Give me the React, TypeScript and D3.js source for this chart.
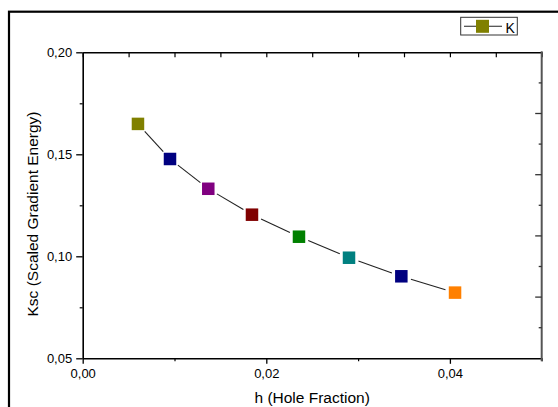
import { useEffect, useRef } from "react";
import * as d3 from "d3";

const holeFraction = [0.00602, 0.00951, 0.01368, 0.01844, 0.02356, 0.02901, 0.03471, 0.04056];
const kscValues = [0.1649, 0.1477, 0.1331, 0.1204, 0.1096, 0.0993, 0.0902, 0.0822];
const pointColors = ["#808000", "#000080", "#800080", "#800000", "#008000", "#008080", "#000080", "#ff8000"];
const xTicks = [0, 0.02, 0.04];
const xMinor = [0.01, 0.03, 0.05];
const yTicks = [0.05, 0.1, 0.15, 0.2];
const yMinor = [0.075, 0.125, 0.175];
const rightMajor = [0.2, 0.17, 0.14, 0.11, 0.08, 0.05];
const rightMinor = [0.185, 0.155, 0.125, 0.095, 0.065];
const topTicks = d3.range(0, 0.0501, 0.005);
const seriesName = "K";

const fmt = (v: number) => v.toFixed(2).replace(".", ",");

export default function App() {
  const ref = useRef<SVGSVGElement>(null);

  useEffect(() => {
    const width = 558;
    const height = 407;
    const margin = { left: 82.7, top: 52.3, right: 558 - 541.7, bottom: 407 - 358.3 };
    const font = "Liberation Sans, Arial, sans-serif";

    const svg = d3.select(ref.current);
    svg.selectAll("*").remove();

    svg.append("rect").attr("width", width).attr("height", height).attr("fill", "#fff");

    // outer frame
    svg
      .append("rect")
      .attr("x", 9)
      .attr("y", 11.7)
      .attr("width", 700)
      .attr("height", 600)
      .attr("fill", "none")
      .attr("stroke", "#000")
      .attr("stroke-width", 2.2);

    const x = d3.scaleLinear().domain([0, 0.05]).range([margin.left, width - margin.right]);
    const y = d3.scaleLinear().domain([0.05, 0.2]).range([height - margin.bottom, margin.top]);

    // bottom axis
    const bottom = svg
      .append("g")
      .attr("transform", `translate(0, ${y(0.05)})`)
      .call(d3.axisBottom(x).tickValues(xTicks).tickSize(5.5).tickSizeOuter(0).tickFormat((d) => fmt(+d)));
    bottom.select(".domain").attr("stroke-width", 1.6);
    bottom.selectAll("line").attr("stroke-width", 1.3);
    bottom.selectAll("text").attr("font-family", font).attr("font-size", 13).attr("dy", "0.9em").attr("fill", "#000");
    svg
      .append("g")
      .attr("transform", `translate(0, ${y(0.05)})`)
      .call(d3.axisBottom(x).tickValues(xMinor).tickSize(3).tickSizeOuter(0).tickFormat(() => ""))
      .call((g) => g.select(".domain").remove())
      .selectAll("line")
      .attr("stroke-width", 1.2);

    // top axis (inward ticks)
    const top = svg
      .append("g")
      .attr("transform", `translate(0, ${y(0.2)})`)
      .call(d3.axisBottom(x).tickValues(topTicks).tickSize(5).tickSizeOuter(0).tickFormat(() => ""));
    top.select(".domain").attr("stroke-width", 1.6);
    top.selectAll("line").attr("stroke-width", 1.2);

    // left axis
    const left = svg
      .append("g")
      .attr("transform", `translate(${x(0)}, 0)`)
      .call(d3.axisLeft(y).tickValues(yTicks).tickSize(6.5).tickSizeOuter(0).tickFormat((d) => fmt(+d)));
    left.select(".domain").attr("stroke-width", 1.6);
    left.selectAll("line").attr("stroke-width", 1.3);
    left.selectAll("text").attr("font-family", font).attr("font-size", 13).attr("x", -10.5).attr("fill", "#000");
    svg
      .append("g")
      .attr("transform", `translate(${x(0)}, 0)`)
      .call(d3.axisLeft(y).tickValues(yMinor).tickSize(3).tickSizeOuter(0).tickFormat(() => ""))
      .call((g) => g.select(".domain").remove())
      .selectAll("line")
      .attr("stroke-width", 1.2);

    // right axis (inward ticks)
    const right = svg
      .append("g")
      .attr("transform", `translate(${x(0.05)}, 0)`)
      .call(d3.axisLeft(y).tickValues(rightMajor).tickSize(-0).tickSizeOuter(0).tickFormat(() => ""));
    right.select(".domain").attr("stroke", "#555").attr("stroke-width", 2).attr("d", `M0,${y(0.2) - 1}V${y(0.05) + 3}`);
    svg
      .append("g")
      .selectAll("line")
      .data([...rightMajor.slice(1, -1).map((v) => ({ v, len: 6.5 })), ...rightMinor.map((v) => ({ v, len: 3 }))])
      .enter()
      .append("line")
      .attr("x1", x(0.05))
      .attr("x2", (d) => x(0.05) - d.len)
      .attr("y1", (d) => y(d.v))
      .attr("y2", (d) => y(d.v))
      .attr("stroke", "#333")
      .attr("stroke-width", 1.3);

    // connecting line with gaps around markers
    const pts = holeFraction.map((h, i) => [x(h), y(kscValues[i])]);
    const gap = 10;
    for (let i = 0; i < pts.length - 1; i++) {
      const [x1, y1] = pts[i];
      const [x2, y2] = pts[i + 1];
      const len = Math.hypot(x2 - x1, y2 - y1);
      const ux = (x2 - x1) / len;
      const uy = (y2 - y1) / len;
      svg
        .append("line")
        .attr("x1", x1 + ux * gap)
        .attr("y1", y1 + uy * gap)
        .attr("x2", x2 - ux * gap)
        .attr("y2", y2 - uy * gap)
        .attr("stroke", "#222")
        .attr("stroke-width", 1.1);
    }

    // markers
    const size = 12.5;
    svg
      .selectAll(".pt")
      .data(holeFraction)
      .enter()
      .append("rect")
      .attr("class", "pt")
      .attr("x", (h) => x(h) - size / 2)
      .attr("y", (h, i) => y(kscValues[i]) - size / 2)
      .attr("width", size)
      .attr("height", size)
      .attr("fill", (h, i) => pointColors[i]);

    // axis titles
    svg
      .append("text")
      .attr("x", (x(0) + x(0.05)) / 2)
      .attr("y", 403)
      .attr("text-anchor", "middle")
      .attr("font-family", font)
      .attr("font-size", 15.5)
      .text("h (Hole Fraction)");

    svg
      .append("text")
      .attr("transform", `translate(38, 214) rotate(-90)`)
      .attr("text-anchor", "middle")
      .attr("font-family", font)
      .attr("font-size", 15.5)
      .text("Ksc (Scaled Gradient Energy)");

    // legend
    const lg = svg.append("g");
    lg.append("rect")
      .attr("x", 460.7)
      .attr("y", 17.3)
      .attr("width", 56.6)
      .attr("height", 17.7)
      .attr("fill", "#fff")
      .attr("stroke", "#333")
      .attr("stroke-width", 1);
    lg.append("line")
      .attr("x1", 464)
      .attr("x2", 502)
      .attr("y1", 26.2)
      .attr("y2", 26.2)
      .attr("stroke", "#222")
      .attr("stroke-width", 1.1);
    lg.append("rect")
      .attr("x", 476)
      .attr("y", 19.8)
      .attr("width", 13)
      .attr("height", 13)
      .attr("fill", pointColors[0]);
    lg.append("text")
      .attr("x", 505.5)
      .attr("y", 32.5)
      .attr("font-family", font)
      .attr("font-size", 14)
      .text(seriesName);
  }, []);

  return (
    <svg
      ref={ref}
      width={558}
      height={407}
      style={{ position: "absolute", left: 0, top: 0, display: "block" }}
    />
  );
}
